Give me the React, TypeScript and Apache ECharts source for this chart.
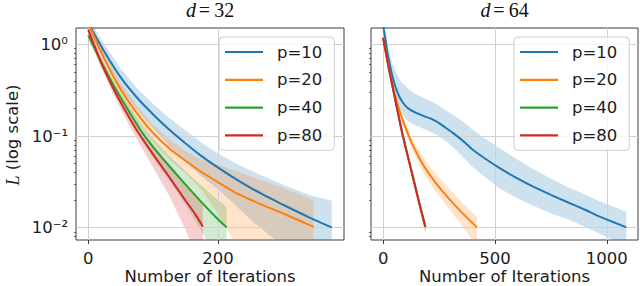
import React, { useEffect, useRef } from 'react';
import * as echarts from 'echarts';

type Row = [number, number, number, number]; // [iteration, mean L, lower band, upper band]

const seriesNames = ['p=10', 'p=20', 'p=40', 'p=80'];
const lineColors = ['#1f77b4', '#ff7f0e', '#2ca02c', '#d62728'];
const bandColors = ['rgba(31,119,180,0.22)', 'rgba(255,127,14,0.22)', 'rgba(44,160,44,0.22)', 'rgba(214,39,40,0.22)'];

const panelTitles = ['32', '64'];
const xAxisTitle = 'Number of Iterations';
const xTicksD32 = [0, 200];
const xTicksD64 = [0, 500, 1000];
const yMajorTicks = [0.01, 0.1, 1];
const yTickLabels = ['10⁻²', '10⁻¹', '10⁰'];
const yMinorTicks = [0.008, 0.009, 0.02, 0.03, 0.04, 0.05, 0.06, 0.07, 0.08, 0.09, 0.2, 0.3, 0.4, 0.5, 0.6, 0.7, 0.8, 0.9];

// d = 32
const d32_p10: Row[] = [
  [0, 1.7, 1.445, 1.955],
  [25, 0.83, 0.664, 0.996],
  [50, 0.436, 0.327, 0.545],
  [75, 0.263, 0.192, 0.334],
  [100, 0.172, 0.12, 0.224],
  [125, 0.117, 0.0784, 0.156],
  [150, 0.083, 0.0515, 0.115],
  [175, 0.06, 0.036, 0.084],
  [200, 0.0452, 0.0262, 0.0642],
  [225, 0.0347, 0.018, 0.0514],
  [250, 0.0272, 0.0122, 0.0422],
  [275, 0.0219, 0.00876, 0.035],
  [300, 0.0178, 0.00623, 0.0294],
  [340, 0.013, 0.00325, 0.02275],
  [375, 0.0101, 0.0005, 0.0197],
];
const d32_p20: Row[] = [
  [0, 1.7, 1.496, 1.904],
  [25, 0.69, 0.587, 0.794],
  [50, 0.324, 0.266, 0.382],
  [75, 0.178, 0.142, 0.214],
  [100, 0.108, 0.0842, 0.132],
  [125, 0.0733, 0.055, 0.0916],
  [150, 0.0537, 0.0387, 0.0687],
  [175, 0.0403, 0.0258, 0.0548],
  [200, 0.0313, 0.0141, 0.0485],
  [225, 0.0245, 0.00686, 0.0421],
  [250, 0.0202, 0.00404, 0.0364],
  [275, 0.0169, 0.00254, 0.0313],
  [300, 0.0143, 0.00143, 0.0272],
  [325, 0.012, 0.00084, 0.0232],
  [347, 0.0102, 0.0004, 0.02],
];
const d32_p40: Row[] = [
  [0, 1.25, 1.125, 1.375],
  [20, 0.646, 0.568, 0.724],
  [40, 0.347, 0.298, 0.396],
  [60, 0.2, 0.168, 0.232],
  [82, 0.112, 0.0896, 0.134],
  [100, 0.0759, 0.0577, 0.0941],
  [125, 0.0468, 0.0328, 0.0608],
  [150, 0.0295, 0.0177, 0.0413],
  [175, 0.0188, 0.00902, 0.0286],
  [200, 0.0123, 0.00467, 0.0199],
  [213, 0.0101, 0.00323, 0.017],
];
const d32_p80: Row[] = [
  [0, 1.445, 1.3, 1.59],
  [20, 0.631, 0.555, 0.707],
  [40, 0.316, 0.272, 0.36],
  [60, 0.174, 0.144, 0.204],
  [75, 0.115, 0.092, 0.138],
  [100, 0.0631, 0.0454, 0.0808],
  [125, 0.0355, 0.022, 0.049],
  [150, 0.0197, 0.00946, 0.0299],
  [165, 0.014, 0.00532, 0.0227],
  [176.5, 0.0103, 0.00309, 0.0175],
];

// d = 64
const d64_p10: Row[] = [
  [0, 1.6, 1.41, 1.84],
  [10, 1.15, 0.995, 1.38],
  [19, 0.81, 0.689, 1.01],
  [30, 0.6, 0.495, 0.79],
  [41, 0.45, 0.36, 0.63],
  [55, 0.345, 0.267, 0.51],
  [71, 0.273, 0.205, 0.423],
  [85, 0.238, 0.175, 0.38],
  [101, 0.212, 0.153, 0.35],
  [120, 0.194, 0.14, 0.316],
  [145, 0.18, 0.13, 0.288],
  [180, 0.166, 0.12, 0.261],
  [220, 0.152, 0.109, 0.236],
  [250, 0.138, 0.0994, 0.214],
  [279, 0.123, 0.0886, 0.191],
  [310, 0.109, 0.0763, 0.172],
  [339, 0.096, 0.0653, 0.154],
  [370, 0.083, 0.0548, 0.135],
  [398, 0.0716, 0.0465, 0.118],
  [450, 0.058, 0.0365, 0.0957],
  [523, 0.0444, 0.0266, 0.0733],
  [600, 0.0345, 0.021, 0.0555],
  [671, 0.028, 0.0174, 0.0434],
  [750, 0.0228, 0.0144, 0.0344],
  [820, 0.0192, 0.0125, 0.0282],
  [900, 0.0158, 0.0103, 0.0232],
  [968, 0.0132, 0.00858, 0.0194],
  [1030, 0.01148, 0.00735, 0.0169],
  [1087, 0.0101, 0.00626, 0.0149],
];
const d64_p20: Row[] = [
  [0, 1.18, 1.12, 1.24],
  [25, 0.56, 0.521, 0.599],
  [50, 0.3, 0.276, 0.324],
  [75, 0.182, 0.164, 0.199],
  [100, 0.124, 0.109, 0.139],
  [115, 0.1, 0.0875, 0.113],
  [140, 0.073, 0.0628, 0.0835],
  [180, 0.048, 0.0394, 0.0576],
  [230, 0.032, 0.0256, 0.04],
  [285, 0.022, 0.0172, 0.0286],
  [350, 0.0148, 0.0107, 0.0192],
  [419, 0.0101, 0.00626, 0.0131],
];
const d64_p40: Row[] = [
  [0, 1.18, 1.12, 1.24],
  [25, 0.56, 0.53, 0.59],
  [47, 0.305, 0.287, 0.323],
  [70, 0.163, 0.152, 0.174],
  [88, 0.102, 0.0945, 0.109],
  [110, 0.0615, 0.0566, 0.0664],
  [136, 0.034, 0.0309, 0.0371],
  [160, 0.0195, 0.0174, 0.0215],
  [190, 0.0101, 0.0087, 0.0113],
];
const d64_p80: Row[] = [
  [0, 1.18, 1.12, 1.24],
  [25, 0.55, 0.52, 0.58],
  [47, 0.3, 0.282, 0.318],
  [70, 0.16, 0.149, 0.171],
  [88, 0.1, 0.0925, 0.107],
  [110, 0.06, 0.0552, 0.0648],
  [136, 0.033, 0.03, 0.036],
  [160, 0.019, 0.0169, 0.0209],
  [188, 0.0103, 0.00886, 0.0115],
];

const panelData = [
  [d32_p10, d32_p20, d32_p40, d32_p80],
  [d64_p10, d64_p20, d64_p40, d64_p80],
];
const panelXTicks = [xTicksD32, xTicksD64];
const panelXRange = [
  [-18.75, 393.75],
  [-54.25, 1139.25],
];
const yRange = [0.00735, 1.506];

const TEXT = '#1c1c1c';
const SPINE = '#3c3c3c';
const FONT = 'DejaVu Sans';
const FS = 16.5;

export default function App() {
  const ref = useRef<HTMLDivElement>(null);
  useEffect(() => {
    if (!ref.current) return;
    const chart = echarts.init(ref.current, null, { renderer: 'svg' });
    const grids = [
      { left: 76, top: 28, width: 268, height: 212 },
      { left: 371, top: 28, width: 267, height: 212 },
    ].map((g) => ({
      ...g,
      show: true,
      borderColor: SPINE,
      borderWidth: 1,
      backgroundColor: 'transparent',
      containLabel: false,
      outerBoundsMode: 'none',
    }));

    const xAxes = [0, 1].map((i) => ({
      type: 'value',
      gridIndex: i,
      min: panelXRange[i][0],
      max: panelXRange[i][1],
      axisLine: { show: false },
      axisTick: { show: true, length: 4, customValues: panelXTicks[i], lineStyle: { color: SPINE, width: 1 } },
      axisLabel: {
        customValues: panelXTicks[i],
        formatter: (v: number) => String(Math.round(v)),
        margin: 10,
        fontSize: FS,
        fontFamily: FONT,
        color: TEXT,
      },
      splitLine: { show: false },
    }));

    const labelFor = (v: number) => {
      const e = Math.round(Math.log10(v));
      const idx = yMajorTicks.findIndex((t) => Math.round(Math.log10(t)) === e);
      return idx >= 0 ? yTickLabels[idx] : '';
    };

    const yAxes: any[] = [];
    [0, 1].forEach((i) => {
      yAxes.push({
        type: 'log',
        logBase: 10,
        gridIndex: i,
        position: 'left',
        min: yRange[0],
        max: yRange[1],
        axisLine: { show: false },
        axisTick: { show: true, length: 4, customValues: yMajorTicks, lineStyle: { color: SPINE, width: 1 } },
        axisLabel: {
          show: i === 0,
          customValues: yMajorTicks,
          formatter: labelFor,
          margin: 8,
          fontSize: FS,
          fontFamily: FONT,
          color: TEXT,
        },
        splitLine: { show: false },
      });
      yAxes.push({
        type: 'log',
        logBase: 10,
        gridIndex: i,
        position: 'left',
        offset: 0,
        min: yRange[0],
        max: yRange[1],
        axisLine: { show: false },
        axisTick: { show: true, length: 2, customValues: yMinorTicks, lineStyle: { color: SPINE, width: 0.8 } },
        axisLabel: { show: false },
        splitLine: { show: false },
      });
    });

    const series: any[] = [];
    [0, 1].forEach((p) => {
      const yIdx = p * 2;
      series.push({
        type: 'line',
        name: 'grid' + p,
        xAxisIndex: p,
        yAxisIndex: yIdx,
        data: [],
        silent: true,
        z: 2,
        markLine: {
          silent: true,
          z: 2,
          symbol: ['none', 'none'],
          label: { show: false },
          emphasis: { disabled: true },
          lineStyle: { color: '#d0d0d0', width: 1, type: 'solid' },
          data: [
            ...panelXTicks[p].map((v) => ({ xAxis: v })),
            ...yMajorTicks.map((v) => ({ yAxis: v })),
          ],
        },
      });
      panelData[p].forEach((rows, k) => {
        series.push({
          type: 'custom',
          name: 'band' + p + k,
          xAxisIndex: p,
          yAxisIndex: yIdx,
          silent: true,
          clip: true,
          z: 1,
          data: [[rows[0][0], rows[0][1]]],
          encode: { x: 0, y: 1 },
          renderItem: (params: any, api: any) => {
            const upper = rows.map((r) => api.coord([r[0], r[3]]));
            const lower = rows
              .slice()
              .reverse()
              .map((r) => api.coord([r[0], r[2]]));
            return {
              type: 'polygon',
              shape: { points: upper.concat(lower) },
              style: { fill: bandColors[k], stroke: 'none' },
            };
          },
        });
      });
      panelData[p].forEach((rows, k) => {
        series.push({
          type: 'line',
          name: seriesNames[k],
          xAxisIndex: p,
          yAxisIndex: yIdx,
          data: rows.map((r) => [r[0], r[1]]),
          symbol: 'none',
          smooth: 0.2,
          clip: true,
          z: 3,
          color: lineColors[k],
          lineStyle: { color: lineColors[k], width: 2 },
          silent: true,
        });
      });
    });

    const legends = [219, 514].map((left) => ({
      data: seriesNames,
      orient: 'vertical',
      left,
      top: 37,
      icon: 'rect',
      itemWidth: 38,
      itemHeight: 2.2,
      itemGap: 9.8,
      padding: [6, 12, 6, 6],
      backgroundColor: 'rgba(255,255,255,0.8)',
      borderColor: '#cccccc',
      borderWidth: 1,
      borderRadius: 4,
      selectedMode: false,
      textStyle: { fontSize: FS, fontFamily: FONT, color: TEXT, lineHeight: 18, padding: [0, 0, 0, 9] },
    }));

    const titleCenters = [210, 504.5];
    const graphics: any[] = titleCenters.map((cx, i) => ({
      type: 'text',
      x: cx,
      y: 10,
      silent: true,
      style: {
        text: '{i|d}{e|=}{n|' + panelTitles[i] + '}',
        align: 'center',
        verticalAlign: 'middle',
        fill: '#111',
        rich: {
          i: { fontFamily: 'Liberation Serif', fontStyle: 'italic', fontSize: 20, fill: '#111' },
          e: { fontFamily: 'Liberation Serif', fontSize: 20, padding: [0, 4, 0, 3], fill: '#111' },
          n: { fontFamily: 'Liberation Serif', fontSize: 20, fill: '#111' },
        },
      },
    }));
    titleCenters.forEach((cx) => {
      graphics.push({
        type: 'text',
        x: cx,
        y: 285,
        silent: true,
        style: {
          text: xAxisTitle,
          align: 'center',
          verticalAlign: 'bottom',
          fontFamily: FONT,
          fontSize: FS,
          fill: TEXT,
        },
      });
    });
    graphics.push({
      type: 'text',
      x: 12.5,
      y: 135,
      rotation: Math.PI / 2,
      silent: true,
      style: {
        text: '{i|L} (log scale)',
        align: 'center',
        verticalAlign: 'middle',
        fontFamily: FONT,
        fontSize: FS,
        fill: TEXT,
        rich: {
          i: { fontFamily: 'Liberation Serif', fontStyle: 'italic', fontSize: 18, fill: TEXT },
        },
      },
    });

    chart.setOption({
      animation: false,
      grid: grids,
      xAxis: xAxes,
      yAxis: yAxes,
      legend: legends,
      series,
      graphic: graphics,
    });
    return () => chart.dispose();
  }, []);
  return <div ref={ref} style={{ position: 'absolute', left: 0, top: 0, width: 640, height: 286 }} />;
}
